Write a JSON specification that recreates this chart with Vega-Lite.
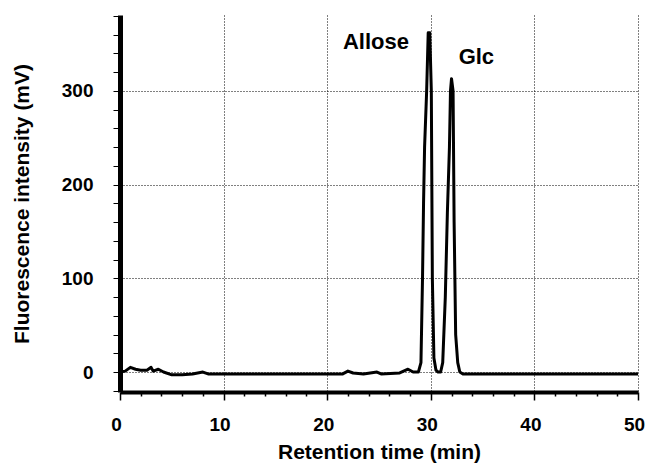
{
  "$schema": "https://vega.github.io/schema/vega-lite/v6.json",
  "width": 518,
  "height": 377,
  "autosize": "none",
  "padding": {"left": 120, "top": 15, "right": 9, "bottom": 72},
  "background": "white",
  "config": {"view": {"stroke": null}, "font": "Liberation Sans"},
  "datasets": {
    "trace": [
      {"t": 0, "mv": 0}, {"t": 0.5, "mv": 1}, {"t": 1.0, "mv": 5}, {"t": 1.5, "mv": 3},
      {"t": 2.0, "mv": 2}, {"t": 2.6, "mv": 2}, {"t": 3.0, "mv": 5}, {"t": 3.2, "mv": 1},
      {"t": 3.7, "mv": 3}, {"t": 4.2, "mv": 0}, {"t": 5.0, "mv": -3}, {"t": 6.0, "mv": -3},
      {"t": 7.0, "mv": -2}, {"t": 7.5, "mv": -1}, {"t": 8.0, "mv": 0}, {"t": 8.5, "mv": -2},
      {"t": 10, "mv": -2}, {"t": 15, "mv": -2}, {"t": 20, "mv": -2}, {"t": 21.5, "mv": -2},
      {"t": 22, "mv": 1}, {"t": 22.5, "mv": -1}, {"t": 23.5, "mv": -2}, {"t": 24.8, "mv": 0},
      {"t": 25.2, "mv": -2}, {"t": 27, "mv": -1}, {"t": 27.8, "mv": 3}, {"t": 28.3, "mv": 0},
      {"t": 28.8, "mv": 0}, {"t": 29.05, "mv": 10}, {"t": 29.2, "mv": 100}, {"t": 29.3, "mv": 180},
      {"t": 29.4, "mv": 240}, {"t": 29.6, "mv": 300}, {"t": 29.75, "mv": 362}, {"t": 29.9, "mv": 362},
      {"t": 30.05, "mv": 300}, {"t": 30.15, "mv": 100}, {"t": 30.3, "mv": 15}, {"t": 30.5, "mv": 2},
      {"t": 30.7, "mv": 0}, {"t": 30.95, "mv": 0}, {"t": 31.15, "mv": 10}, {"t": 31.4, "mv": 80},
      {"t": 31.6, "mv": 170}, {"t": 31.8, "mv": 240}, {"t": 31.9, "mv": 300}, {"t": 32.0, "mv": 313},
      {"t": 32.15, "mv": 300}, {"t": 32.25, "mv": 160}, {"t": 32.4, "mv": 40}, {"t": 32.6, "mv": 10},
      {"t": 32.8, "mv": 0}, {"t": 33.1, "mv": -2}, {"t": 35, "mv": -2}, {"t": 50, "mv": -2}
    ],
    "labels": [
      {"t": 24.7, "mv": 345, "label": "Allose"},
      {"t": 34.4, "mv": 329, "label": "Glc"}
    ]
  },
  "layer": [
    {
      "data": {"name": "trace"},
      "mark": {"type": "line", "color": "black", "strokeWidth": 3, "clip": true, "strokeJoin": "round"},
      "encoding": {
        "x": {
          "field": "t", "type": "quantitative",
          "scale": {"domain": [0, 50], "nice": false, "zero": false},
          "axis": {
            "title": "Retention time (min)",
            "values": [0,2,4,6,8,10,12,14,16,18,20,22,24,26,28,30,32,34,36,38,40,42,44,46,48,50],
            "tickCount": 200,
            "format": "d",
            "labelExpr": "datum.value % 10 === 0 ? datum.label : ''",
            "labelOverlap": false,
            "labelFont": "Liberation Sans", "labelFontSize": 19, "labelFontWeight": "bold", "labelColor": "black",
            "labelPadding": 15, "labelFlush": false, "labelOffset": -4,
            "domainColor": "black", "domainWidth": 4,
            "tickColor": "black", "tickWidth": 1.5,
            "tickSize": {"condition": {"test": "datum.value % 10 === 0", "value": 8}, "value": 4},
            "grid": true, "gridColor": "black", "gridDash": [1, 2], "gridWidth": 1,
            "gridOpacity": {"condition": {"test": "datum.value % 10 === 0 && datum.value > 0", "value": 1}, "value": 0},
            "titleFont": "Liberation Sans", "titleFontSize": 21, "titleFontWeight": "bold", "titleColor": "black",
            "titlePadding": 7
          }
        },
        "y": {
          "field": "mv", "type": "quantitative",
          "scale": {"domain": [-21.3, 381], "nice": false, "zero": false},
          "axis": {
            "title": "Fluorescence intensity (mV)",
            "values": [-20,0,20,40,60,80,100,120,140,160,180,200,220,240,260,280,300,320,340,360,380],
            "tickCount": 200,
            "format": "d",
            "labelExpr": "datum.value % 100 === 0 ? datum.label : ''",
            "labelOverlap": false,
            "labelFont": "Liberation Sans", "labelFontSize": 19, "labelFontWeight": "bold", "labelColor": "black",
            "labelPadding": 20,
            "domainColor": "black", "domainWidth": 5,
            "tickColor": "black", "tickWidth": 1, "tickSize": 7,
            "grid": true, "gridColor": "black", "gridDash": [1, 2], "gridWidth": 1,
            "gridOpacity": {"condition": {"test": "datum.value % 100 === 0 && datum.value >= 0", "value": 1}, "value": 0},
            "titleFont": "Liberation Sans", "titleFontSize": 21, "titleFontWeight": "bold", "titleColor": "black",
            "titlePadding": 29
          }
        }
      }
    },
    {
      "data": {"name": "labels"},
      "mark": {"type": "text", "font": "Liberation Sans", "fontSize": 22, "fontWeight": "bold", "color": "black", "baseline": "alphabetic", "align": "center"},
      "encoding": {
        "x": {"field": "t", "type": "quantitative"},
        "y": {"field": "mv", "type": "quantitative"},
        "text": {"field": "label"}
      }
    }
  ]
}
